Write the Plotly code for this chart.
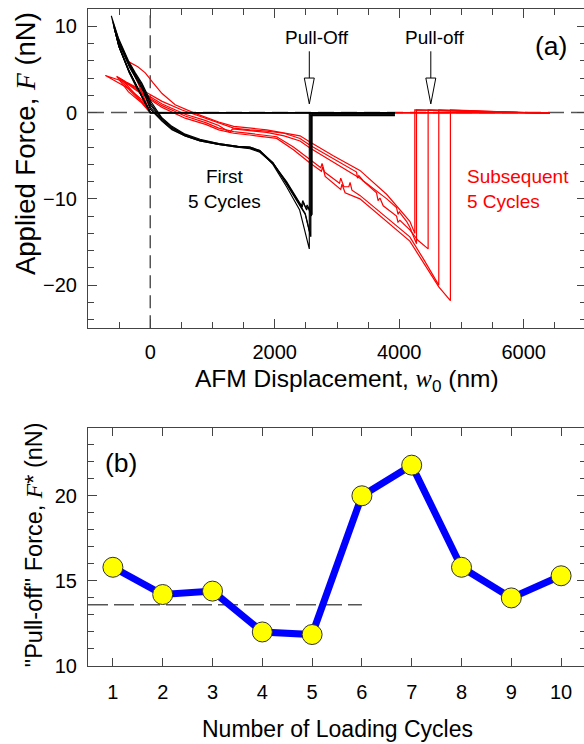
import plotly.graph_objects as go

FONT = "Liberation Sans, Arial, Helvetica, sans-serif"

# ---------------- Panel (a): force-displacement cycles ----------------
# First 5 cycles (black): approach + retract
b1_x = [3930, 0, -133, -240, -350, -510, -625, -510, -350, -240, -133, 0, 187, 348, 560, 800, 1100, 1400, 1600, 1760, 1970, 2190, 2400, 2555, 2555, 3930]
b1_y = [0, 0, 1.9, 3.4, 5.0, 7.8, 11.2, 8.6, 6.0, 4.6, 3.4, 1.4, -0.6, -1.6, -2.5, -3.1, -3.6, -3.9, -4.0, -4.4, -6.0, -8.6, -11.3, -15.8, -0.15, -0.15]
b2_x = [3930, 0, -130, -235, -345, -505, -600, -500, -345, -235, -130, 0, 187, 348, 560, 800, 1100, 1400, 1600, 1760, 1970, 2190, 2350, 2490, 2570, 2570, 3930]
b2_y = [0, 0, 1.8, 3.3, 4.9, 7.7, 10.5, 8.3, 5.8, 4.4, 3.2, 1.1, -0.7, -1.7, -2.6, -3.2, -3.6, -3.9, -4.0, -4.4, -5.8, -8.3, -10.2, -11.8, -14.2, -0.3, -0.3]
b3_x = [3930, 0, -128, -232, -342, -500, -590, -495, -340, -230, -128, 0, 187, 348, 560, 800, 1100, 1400, 1600, 1760, 1970, 2190, 2350, 2490, 2580, 2580, 3930]
b3_y = [0, 0, 1.8, 3.2, 4.8, 7.6, 10.1, 8.1, 5.6, 4.2, 3.0, 0.9, -0.8, -1.8, -2.6, -3.2, -3.7, -3.9, -4.1, -4.5, -5.9, -8.2, -10.1, -11.7, -14.4, -0.1, -0.1]
b4_x = [3930, 0, -125, -230, -340, -495, -580, -490, -335, -225, -125, 0, 187, 348, 560, 800, 1100, 1400, 1600, 1760, 1970, 2190, 2350, 2440, 2460, 2512, 2530, 2590, 2590, 3930]
b4_y = [0, 0, 1.7, 3.1, 4.7, 7.5, 9.8, 7.9, 5.4, 4.0, 2.8, 0.6, -0.9, -1.9, -2.7, -3.3, -3.7, -4.0, -4.1, -4.5, -5.8, -8.1, -10.0, -11.0, -10.4, -11.3, -10.9, -12.0, -0.35, -0.35]
b5_x = [3930, 0, -122, -228, -338, -490, -570, -485, -330, -220, -122, 0, 187, 348, 560, 800, 1100, 1400, 1600, 1760, 1970, 2190, 2350, 2430, 2450, 2500, 2520, 2600, 2600, 3930]
b5_y = [0, 0, 1.7, 3.0, 4.6, 7.4, 9.6, 7.7, 5.2, 3.8, 2.6, 0.4, -1.0, -2.0, -2.7, -3.3, -3.7, -4.0, -4.2, -4.6, -5.9, -8.0, -9.9, -10.8, -10.2, -11.1, -10.7, -11.85, -0.2, -0.2]

# Subsequent 5 cycles (red)
r1_x = [6420, 0, -190, -350, -200, -80, 50, 190, 400, 720, 1100, 1340, 1870, 2406, 2566, 2940, 3368, 3800, 4170, 4250, 4250, 6420]
r1_y = [0, 0, 3.3, 5.9, 5.3, 4.6, 3.4, 2.2, 0.9, -0.1, -1.1, -1.6, -2.0, -2.7, -3.4, -5.0, -6.7, -9.5, -12.6, -14.0, 0.3, -0.1]
r2_x = [6420, 0, -133, -348, -720, -348, -80, 190, 510, 880, 1200, 1340, 1600, 1870, 2150, 2406, 2566, 2940, 3314, 3330, 3350, 3421, 3800, 3956, 3980, 4000, 4117, 4170, 4277, 4277, 6420]
r2_y = [0, 0, 1.5, 2.8, 4.3, 3.4, 2.4, 1.3, 0.3, -0.65, -1.4, -1.8, -2.0, -2.15, -2.4, -3.0, -3.8, -5.3, -6.9, -7.6, -7.3, -7.9, -10.0, -11.0, -11.8, -11.5, -12.6, -13.3, -15.2, 0.3, -0.1]
r3_x = [6420, 0, -150, -350, -540, -300, -60, 190, 560, 880, 1100, 1280, 1320, 1600, 1870, 2150, 2406, 2566, 2940, 3368, 3635, 3660, 3690, 3742, 3956, 3980, 4010, 4170, 4300, 4464, 4464, 6420]
r3_y = [0, 0, 1.2, 2.4, 4.2, 3.2, 2.1, 1.0, -0.2, -0.9, -1.5, -2.3, -1.9, -2.1, -2.3, -2.7, -3.3, -4.1, -5.7, -7.6, -9.3, -10.2, -9.9, -10.8, -12.0, -12.7, -12.5, -13.6, -14.8, -15.8, 0.3, -0.1]
r4_x = [6420, 0, -160, -320, -500, -300, -80, 190, 560, 900, 1100, 1340, 1600, 1870, 2032, 2300, 2566, 2740, 2760, 2800, 3040, 3060, 3110, 3190, 3210, 3240, 3368, 3700, 3950, 4170, 4400, 4635, 4635, 6420]
r4_y = [0, 0, 1.4, 2.5, 4.0, 3.0, 2.0, 0.8, -0.4, -1.2, -1.8, -2.2, -2.4, -2.6, -2.8, -4.0, -5.5, -6.4, -5.9, -6.9, -8.2, -7.6, -8.6, -8.6, -8.1, -9.0, -9.6, -11.6, -13.1, -14.4, -17.1, -20.0, 0.3, -0.1]
r5_x = [6420, 0, -140, -300, -450, -250, -50, 190, 560, 900, 1100, 1340, 1600, 1870, 2032, 2300, 2566, 2750, 2770, 2810, 3060, 3080, 3130, 3368, 3700, 3950, 4170, 4635, 4822, 4822, 6420]
r5_y = [0, 0, 1.3, 2.6, 3.8, 2.7, 1.7, 0.6, -0.65, -1.4, -2.0, -2.4, -2.6, -2.8, -3.0, -4.3, -5.85, -6.8, -6.3, -7.4, -8.9, -8.3, -9.3, -10.0, -12.0, -13.5, -14.9, -20.2, -21.8, 0.3, -0.1]

black_cycles = [(b1_x, b1_y), (b2_x, b2_y), (b3_x, b3_y), (b4_x, b4_y), (b5_x, b5_y)]
red_cycles = [(r1_x, r1_y), (r2_x, r2_y), (r3_x, r3_y), (r4_x, r4_y), (r5_x, r5_y)]

pulloff_x = [2555, 4507]
pulloff_labels = ["Pull-Off", "Pull-off"]
pulloff_label_x = [2674, 4582]

# ---------------- Panel (b): pull-off force per cycle ----------------
cycles = [1, 2, 3, 4, 5, 6, 7, 8, 9, 10]
pulloff_force = [15.8, 14.2, 14.4, 12.0, 11.85, 20.0, 21.8, 15.8, 14.0, 15.3]
mean_first5 = 13.6
mean_span = [0.5, 6.0]

# tick definitions
ax_major = [0, 2000, 4000, 6000]
ax_minor = [-1000, -500, 500, 1000, 1500, 2500, 3000, 3500, 4500, 5000, 5500, 6500, 7000]
ay_major = [-20, -10, 0, 10]
ay_minor = [-24, -22, -18, -16, -14, -12, -8, -6, -4, -2, 2, 4, 6, 8, 12]
bx_major = cycles
by_major = [10, 15, 20]
by_minor = [11, 12, 13, 14, 16, 17, 18, 19, 21, 22, 23, 24]

fig = go.Figure()

for cx, cy in red_cycles:
    fig.add_trace(go.Scatter(x=cx, y=cy, mode="lines", line=dict(color="#ff0000", width=1.2),
                             xaxis="x", yaxis="y", showlegend=False, hoverinfo="skip"))
for cx, cy in black_cycles:
    fig.add_trace(go.Scatter(x=cx, y=cy, mode="lines", line=dict(color="#000000", width=1.15),
                             xaxis="x", yaxis="y", showlegend=False, hoverinfo="skip"))

# panel b
fig.add_trace(go.Scatter(x=mean_span, y=[mean_first5, mean_first5], mode="lines",
                         line=dict(color="#555555", width=1.5, dash="20px,6px"),
                         xaxis="x2", yaxis="y2", showlegend=False, hoverinfo="skip"))
fig.add_trace(go.Scatter(x=cycles, y=pulloff_force, mode="lines+markers",
                         line=dict(color="#0000ff", width=7),
                         marker=dict(size=20, color="#ffff00", line=dict(color="#333333", width=1)),
                         xaxis="x2", yaxis="y2", showlegend=False, hoverinfo="skip"))

shapes = [
    dict(type="line", xref="x", yref="y", x0=-1000, x1=7000, y0=0, y1=0, layer="below",
         line=dict(color="#555555", width=1.5, dash="16px,7px")),
    dict(type="line", xref="x", yref="y", x0=0, x1=0, y0=-25, y1=12, layer="below",
         line=dict(color="#555555", width=1.5, dash="13px,7px")),
]
for px in pulloff_x:
    shapes.append(dict(type="line", xref="x", yref="y", x0=px, x1=px, y0=7.1, y1=4.0,
                       line=dict(color="#000000", width=1)))
    shapes.append(dict(type="path", xref="x", yref="y",
                       path=f"M {px-80},4.0 L {px+80},4.0 L {px},1.0 Z",
                       fillcolor="#ffffff", line=dict(color="#000000", width=1)))

SER = "<span style='font-family:Liberation Serif'><i>{}</i></span>"
tf = dict(family=FONT, size=20, color="#000000")


def pann(text, x, y, size, color="#000", angle=0):
    return dict(text=text, xref="paper", yref="paper", x=x, y=y, textangle=angle,
                xanchor="center", yanchor="middle", showarrow=False,
                font=dict(family=FONT, size=size, color=color))


annotations = [
    pann("Applied Force, " + SER.format("F") + " (nN)", -0.1265, 0.7945, 27.5, angle=-90),
    pann("AFM Displacement, " + SER.format("w") + "<sub>0</sub> (nm)", 0.52, 0.4338, 24.5),
    pann("\"Pull-off\" Force, " + SER.format("F") + "* (nN)", -0.108, 0.1842, 23.5, angle=-90),
    pann("Number of Loading Cycles", 0.502, -0.0959, 23),
    pann("(a)", 0.929, 0.9437, 26.5),
    pann("(b)", 0.066, 0.309, 26.5),
    dict(text="First<br>5 Cycles", xref="x", yref="y", x=1187, y=-8.87, showarrow=False,
         xanchor="center", yanchor="middle", align="center",
         font=dict(family=FONT, size=19, color="#000")),
    dict(text="Subsequent<br>5 Cycles", xref="x", yref="y", x=5052, y=-8.87, showarrow=False,
         xanchor="left", yanchor="middle", align="left",
         font=dict(family=FONT, size=19, color="#ff0000")),
]
for lx, lab in zip(pulloff_label_x, pulloff_labels):
    annotations.append(dict(text=lab, xref="x", yref="y", x=lx, y=8.69, showarrow=False,
                            xanchor="center", yanchor="middle",
                            font=dict(family=FONT, size=19, color="#000")))

axis_common = dict(showline=True, linecolor="#444444", linewidth=1, mirror="ticks",
                   ticks="inside", tickcolor="#444444", tickwidth=1, showgrid=False,
                   zeroline=False, tickfont=tf)

fig.update_layout(
    width=590, height=744,
    margin=dict(l=88, r=4, t=9, b=78),
    paper_bgcolor="white", plot_bgcolor="white",
    xaxis=dict(domain=[0, 1], range=[-1000, 7000], anchor="y",
               tickvals=ax_major, ticklen=9, ticklabelstandoff=6,
               minor=dict(tickvals=ax_minor, ticklen=6, ticks="inside", tickcolor="#444444"),
               **axis_common),
    yaxis=dict(domain=[0.514, 1], range=[-25, 12], anchor="x",
               tickvals=ay_major, ticklen=9, ticklabelstandoff=6,
               minor=dict(tickvals=ay_minor, ticklen=6, ticks="inside", tickcolor="#444444"),
               **axis_common),
    xaxis2=dict(domain=[0, 1], range=[0.5, 10.5], anchor="y2",
                tickvals=bx_major, ticklen=8, ticklabelstandoff=8, **axis_common),
    yaxis2=dict(domain=[0, 0.3627], range=[10, 24], anchor="x2",
                tickvals=by_major, ticklen=9, ticklabelstandoff=6,
                minor=dict(tickvals=by_minor, ticklen=6, ticks="inside", tickcolor="#444444"),
                **axis_common),
    shapes=shapes,
    annotations=annotations,
)

fig.write_html("out.html", config={"displayModeBar": False}, post_script=(
    "document.body.style.margin='0';document.body.style.overflow='hidden';"
    "document.documentElement.style.overflow='hidden';"))
